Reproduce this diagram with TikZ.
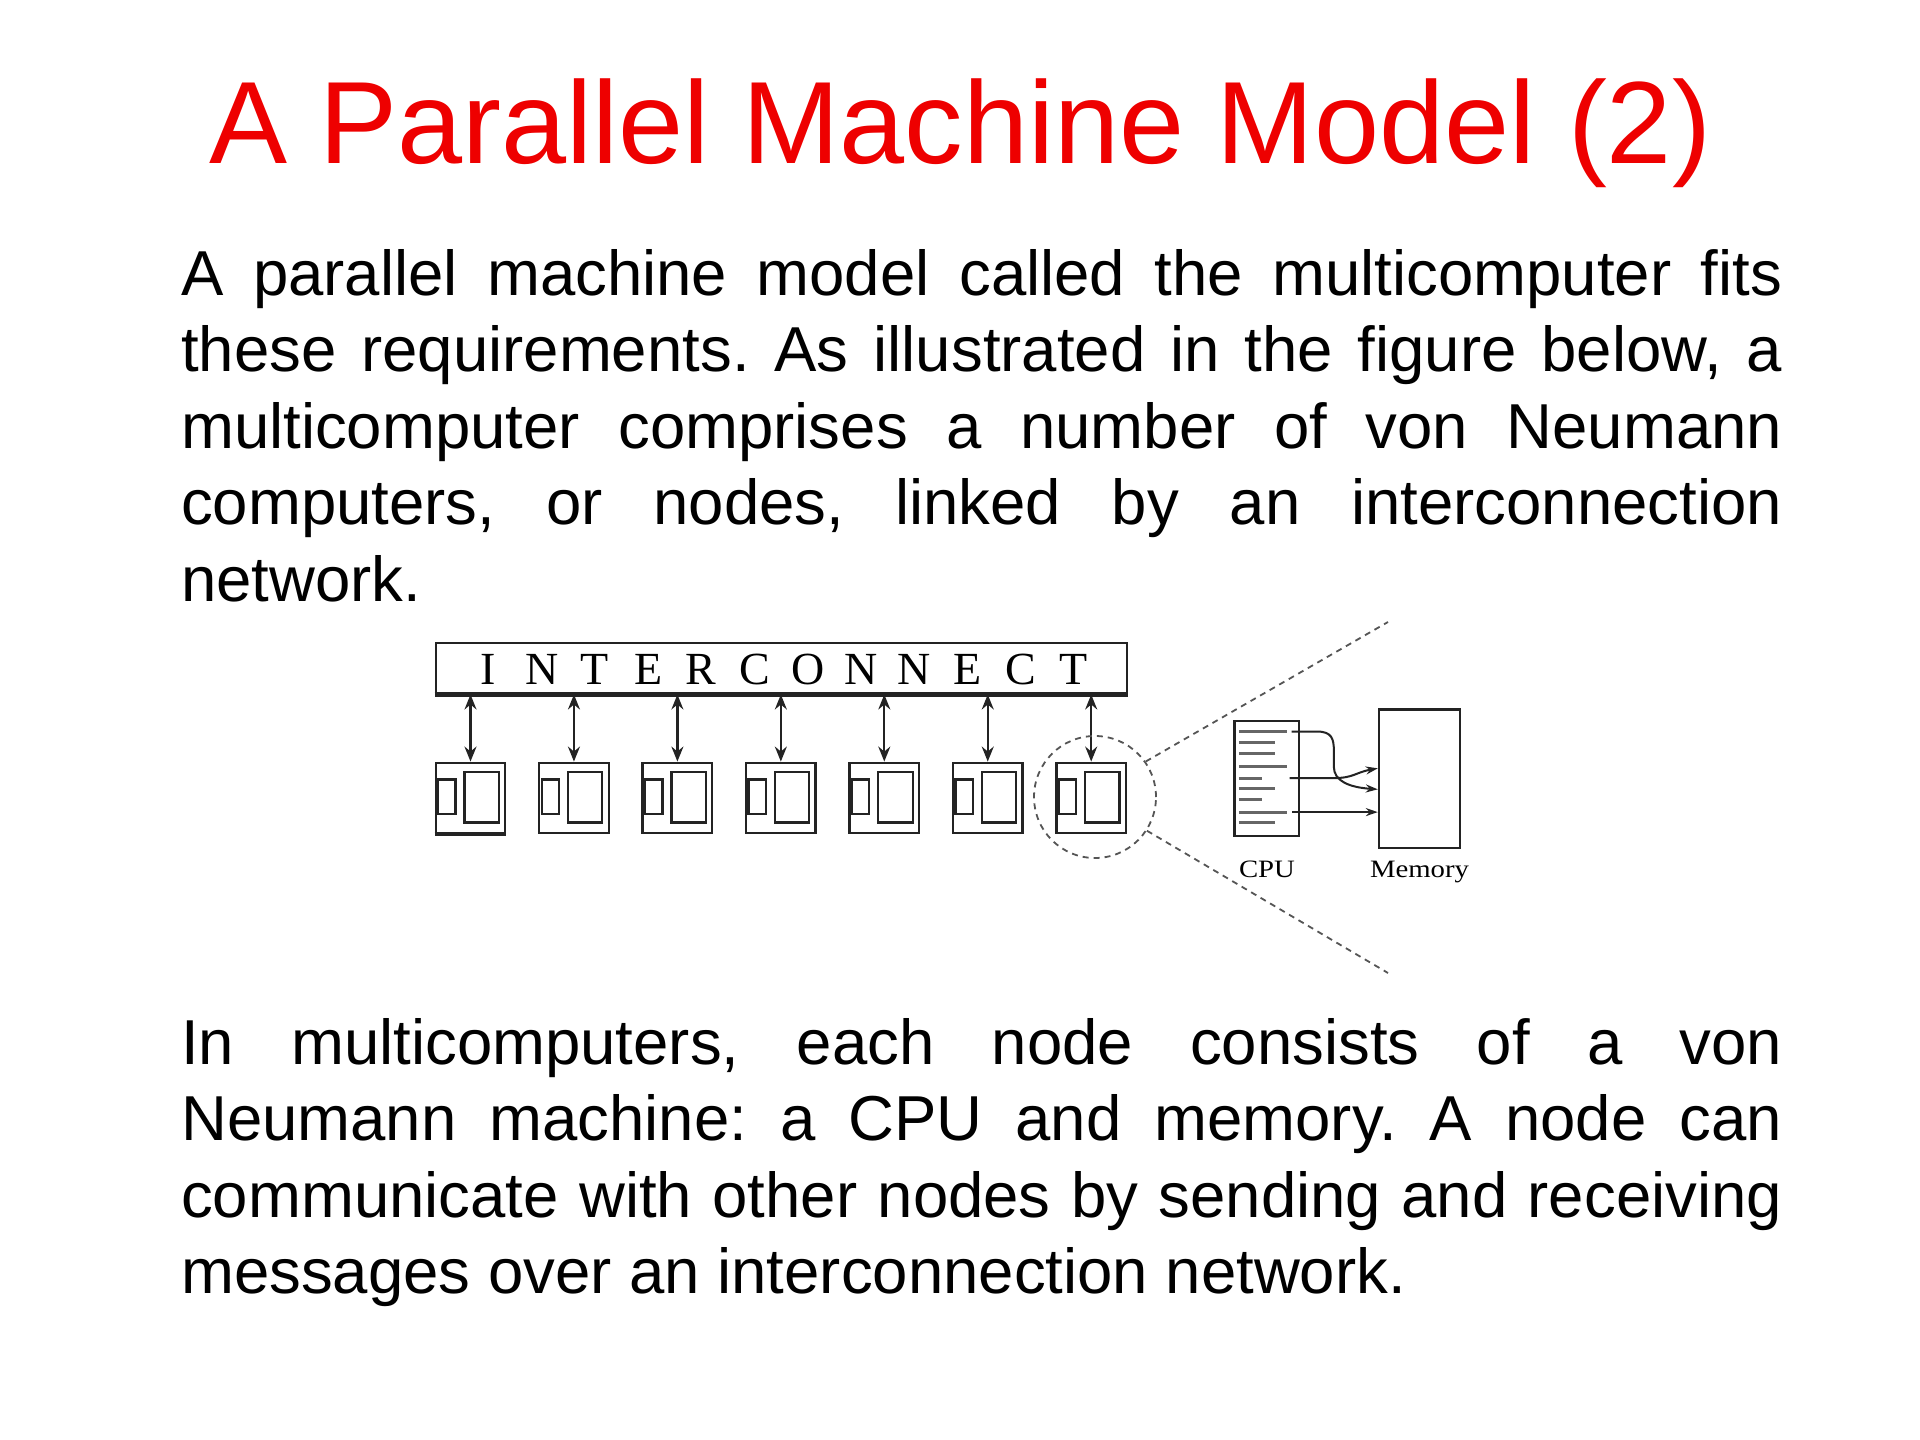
\documentclass[tikz,border=0pt]{standalone}
\usepackage{fontspec}
\usepackage{graphicx}
\setmainfont{Liberation Sans}
\newfontfamily\serifont{Liberation Serif}
\usetikzlibrary{arrows.meta,calc}
\definecolor{titlered}{RGB}{238,0,0}
\definecolor{linecol}{RGB}{35,35,35}
\definecolor{dashcol}{RGB}{85,85,85}
\newcommand\icl[1]{\makebox[53.2pt]{#1}}
\frenchspacing
\begin{document}
\begin{tikzpicture}[x=1pt,y=-1pt,
  titletext/.style={inner sep=0, text=titlered, font=\fontsize{117pt}{140pt}\selectfont},
  paratext/.style={inner sep=0, font=\fontsize{63.5pt}{76.6pt}\selectfont},
  icbox/.style={draw=linecol, line width=2.4pt, minimum width=691pt, minimum height=50.6pt, inner sep=0},
  ictext/.style={inner sep=0, font=\serifont\fontsize{46pt}{46pt}\selectfont},
  pebox/.style={draw=linecol, line width=2.4pt, minimum width=69.5pt, minimum height=70.5pt, inner sep=0},
  innerbox/.style={draw=linecol, line width=2.2pt},
  link/.style={draw=linecol, line width=2.2pt, {Stealth[length=15pt,width=12pt,inset=5pt]}-{Stealth[length=15pt,width=12pt,inset=5pt]}},
  zoomcircle/.style={circle, draw=dashcol, line width=1.8pt, dash pattern=on 6pt off 5pt, minimum size=122pt, inner sep=0},
  zoomline/.style={draw=dashcol, line width=1.8pt, dash pattern=on 6pt off 5pt},
  cpubox/.style={draw=linecol, line width=2.4pt, minimum width=64.7pt, minimum height=115pt, inner sep=0},
  membox/.style={draw=linecol, line width=2.4pt, minimum width=81pt, minimum height=138.4pt, inner sep=0},
  cpuline/.style={draw=black!60, line width=3pt},
  memarrow/.style={draw=linecol, line width=2pt, -{Stealth[length=12pt,width=8pt]}},
  labeltext/.style={inner sep=0, font=\serifont\fontsize{25pt}{25pt}\selectfont}
]
\useasboundingbox (0,0) rectangle (1920,1440);
\fill[white] (0,0) rectangle (1920,1440);

% title
\node[titletext, anchor=base west] (title) at (209,163.3) {A Parallel Machine Model (2)};

% first paragraph
\node[paratext, anchor=base west] (para1) at (181,295) {\parbox[t]{1601pt}{\noindent\tolerance=10000\hyphenpenalty=10000
A parallel machine model called the multicomputer fits\linebreak
these requirements. As illustrated in the figure below, a\linebreak
multicomputer comprises a number of von Neumann\linebreak
computers, or nodes, linked by an interconnection\linebreak
network.}};

% second paragraph
\node[paratext, anchor=base west] (para2) at (181,1064) {\parbox[t]{1601pt}{\noindent\tolerance=10000\hyphenpenalty=10000
In multicomputers, each node consists of a von\linebreak
Neumann machine: a CPU and memory. A node can\linebreak
communicate with other nodes by sending and receiving\linebreak
messages over an interconnection network.}};

% interconnect
\node[icbox] (ic) at (781.2,668) {};
\draw[linecol, line width=4.5pt] (ic.south west) -- (ic.south east);
\node[ictext, anchor=base west] (iclabel) at (461.7,684.3) {\icl{I}\icl{N}\icl{T}\icl{E}\icl{R}\icl{C}\icl{O}\icl{N}\icl{N}\icl{E}\icl{C}\icl{T}};

% processing nodes
\foreach \i in {1,...,7} {
  \node[pebox] (n\i) at ({470.5+103.45*(\i-1)},798) {};
  \draw[innerbox] ($(n\i.north west)+(3.6,18)$) rectangle ($(n\i.north west)+(21,52.7)$);
  \draw[innerbox] ($(n\i.north west)+(30,10.3)$) rectangle ($(n\i.north west)+(64.3,61)$);
  \draw[link] (ic.south -| n\i.north) -- (n\i.north);
}
\draw[linecol, line width=4pt] (n1.south west) -- (n1.south east);

% zoom
\node[zoomcircle] (zoom) at (1095,797) {};
\coordinate (zt) at (1388,622);
\coordinate (zb) at (1388,973);
\draw[zoomline] (zoom.35) -- (zt);
\draw[zoomline] (zoom.-33) -- (zb);

% cpu and memory
\node[cpubox] (cpu) at (1266.7,778.5) {};
\node[membox] (mem) at (1419.5,778.5) {};
\foreach \dy/\len in {11.7/47.7, 22.3/36, 34/36, 46.3/47.7, 58.3/23.3, 68.3/36, 80/23.3, 92.3/47.7, 102.3/36} {
  \draw[cpuline] ($(cpu.north west)+(5.7,\dy)$) -- ++(\len,0);
}
\coordinate (s1) at ($(cpu.north west)+(58.4,11.7)$);
\coordinate (s2) at ($(cpu.north west)+(56.4,58.3)$);
\coordinate (s3) at ($(cpu.north west)+(59,92.3)$);
\coordinate (t1) at ($(mem.west)+(0,10.8)$);
\coordinate (t2) at ($(mem.west)+(0,-10.2)$);
\draw[memarrow] (s1) -- ++(25.3,0) .. controls +(15,0) and +(0,-12) .. ++(17,19.3) -- ++(0,16) .. controls +(0,14) and +(-29,-2) .. (t1);
\draw[memarrow] (s2) -- ++(44,0) .. controls +(20,0) and +(-22,4) .. (t2);
\draw[memarrow] (s3) -- (mem.west |- s3);

\node[labeltext, anchor=base] (cpulabel) at (1267,877) {\scalebox{1.15}[1]{CPU}};
\node[labeltext, anchor=base] (memlabel) at (1419.5,877) {\scalebox{1.15}[1]{Memory}};
\end{tikzpicture}
\end{document}
